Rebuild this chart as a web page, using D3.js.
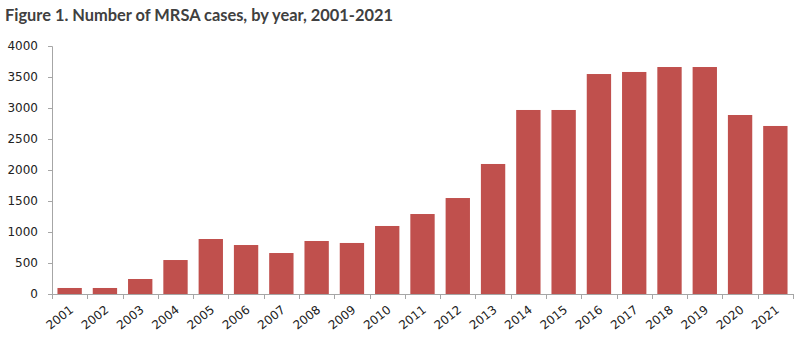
<!DOCTYPE html>
<html><head><meta charset="utf-8">
<script src="https://cdn.jsdelivr.net/npm/d3@7"></script>
<style>body{margin:0;background:#fff}svg{display:block}</style>
</head><body>
<svg id="c" width="800" height="343"></svg>
<script>
const years = ["2001","2002","2003","2004","2005","2006","2007","2008","2009","2010","2011","2012","2013","2014","2015","2016","2017","2018","2019","2020","2021"];
const cases = [97, 97, 242, 548, 887, 790, 661, 855, 823, 1097, 1290, 1548, 2097, 2968, 2968, 3548, 3581, 3661, 3661, 2887, 2710];
const yTicks = [0,500,1000,1500,2000,2500,3000,3500,4000];
const title = "Figure 1. Number of MRSA cases,  by year, 2001-2021";

const svg = d3.select("#c");
const font = "DejaVu Sans, sans-serif";
const axisColor = "#a6a6a6";
const x0 = 52, x1 = 793, yTop = 46, yBot = 294;

const x = d3.scaleBand().domain(years).range([x0, x1]).paddingInner(0.31).paddingOuter(0.155);
const y = d3.scaleLinear().domain([0, 4000]).range([yBot, yTop]);

svg.append("text").attr("x", 5).attr("y", 21)
  .attr("font-family", "Lato, sans-serif").attr("font-weight", "bold").attr("font-size", 17)
  .attr("fill", "#404040").attr("textLength", 388).attr("lengthAdjust", "spacingAndGlyphs")
  .text(title);

svg.append("g").selectAll("rect").data(years).join("rect")
  .attr("x", d => x(d)).attr("width", x.bandwidth())
  .attr("y", (d, i) => y(cases[i])).attr("height", (d, i) => yBot - y(cases[i]))
  .attr("fill", "#c0504d");

// y axis
const ya = svg.append("g").attr("transform", `translate(${x0},0)`)
  .call(d3.axisLeft(y).tickValues(yTicks).tickSize(4).tickPadding(10).tickFormat(d3.format("d")));
ya.select(".domain").attr("stroke", axisColor);
ya.selectAll(".tick line").attr("stroke", axisColor);
ya.selectAll("text").attr("font-family", font).attr("font-size", 12).attr("fill", "#222");

// x axis
const xa = svg.append("g");
xa.append("line").attr("x1", x0).attr("x2", x1).attr("y1", yBot + 0.5).attr("y2", yBot + 0.5).attr("stroke", axisColor);
const boundaries = d3.range(years.length + 1).map(i => x0 + i * (x1 - x0) / years.length);
xa.selectAll("line.t").data(boundaries).join("line").attr("class", "t")
  .attr("x1", d => Math.round(d) + 0.5).attr("x2", d => Math.round(d) + 0.5)
  .attr("y1", yBot).attr("y2", yBot + 5).attr("stroke", axisColor);
xa.selectAll("text").data(years).join("text")
  .attr("transform", d => `translate(${x(d) + x.bandwidth() / 2 + 2},${yBot + 14}) rotate(-38)`)
  .attr("text-anchor", "end").attr("dy", "0.35em")
  .attr("font-family", font).attr("font-size", 12).attr("fill", "#222")
  .text(d => d);
</script>
</body></html>
